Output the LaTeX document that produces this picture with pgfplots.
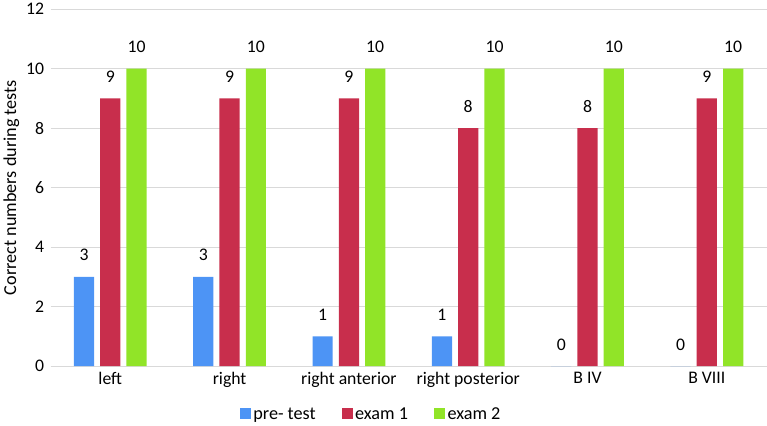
\documentclass[border=0pt]{standalone}
\usepackage{pgfplots}
\pgfplotsset{compat=1.18}
\usepackage{fontspec}
\setmainfont{Carlito}
\definecolor{cblue}{RGB}{77,148,245}
\definecolor{cred}{RGB}{200,46,76}
\definecolor{cgreen}{RGB}{145,228,40}
\definecolor{cgrid}{RGB}{217,217,217}
\begin{document}
\begin{tikzpicture}
\begin{axis}[
  scale only axis,
  width=708pt, height=353pt,
  ybar=6pt, bar width=20pt,
  xmin=-0.5, xmax=5.5, ymin=0, ymax=12,
  xtick={0,1,2,3,4,5},
  xticklabels={left,right,right anterior,right posterior,B IV,B VIII},
  ytick={0,2,4,6,8,10,12},
  ymajorgrids, grid style={cgrid, line width=1pt},
  axis x line*=bottom, axis y line*=left,
  separate axis lines,
  x axis line style={cgrid, line width=1pt, -},
  y axis line style={draw=none},
  major tick length=0pt,
  tick label style={font=\fontsize{17.5}{20}\selectfont},
  /pgf/number format/assume math mode=true,
  ylabel={Correct numbers during tests},
  every axis y label/.style={at={(ticklabel cs:0.5)}, rotate=90, anchor=south,
    font=\fontsize{18}{21}\selectfont},
  nodes near coords,
  every node near coord/.append style={font=\fontsize{17.5}{20}\selectfont, yshift=12pt},
  legend style={draw=none, at={(0.448,-0.105)}, anchor=north, legend columns=-1,
    font=\fontsize{18}{21}\selectfont,
    /tikz/every even column/.append style={column sep=24pt}},
  legend image code/.code={\fill[#1] (0pt,-5pt) rectangle (11pt,6pt);},
  xticklabel style={yshift=-3pt},
  yticklabel style={xshift=-3pt},
]
\addplot[fill=cblue, draw=none] coordinates {(0,3) (1,3) (2,1) (3,1) (4,0) (5,0)};
\addplot[fill=cred, draw=none] coordinates {(0,9) (1,9) (2,9) (3,8) (4,8) (5,9)};
\addplot[fill=cgreen, draw=none] coordinates {(0,10) (1,10) (2,10) (3,10) (4,10) (5,10)};
\legend{pre- test, exam 1, exam 2}
\end{axis}
\end{tikzpicture}
\end{document}
